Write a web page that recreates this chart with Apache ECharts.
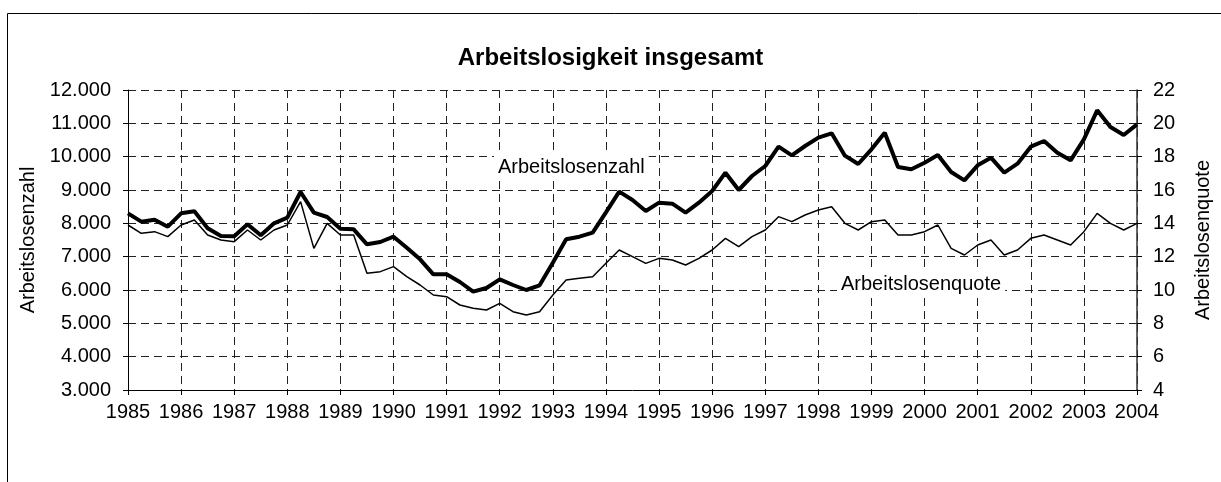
<!DOCTYPE html>
<html>
<head>
<meta charset="utf-8">
<script src="https://cdn.jsdelivr.net/npm/echarts@6/dist/echarts.min.js"></script>
<style>
html,body{margin:0;padding:0;background:#fff;}
#c{width:1221px;height:482px;}
</style>
</head>
<body>
<div id="c"></div>
<script>
// ---- data ----
const years = [1985,1986,1987,1988,1989,1990,1991,1992,1993,1994,1995,1996,1997,1998,1999,2000,2001,2002,2003,2004];
const quarters = ["Q1","Q2","Q3","Q4"];
// Arbeitslosenzahl (left axis), quarterly 1985 Q1 .. 2004 Q1
const arbeitslosenzahl = [
  8300, 8050, 8110, 7900,
  8300, 8360, 7850, 7620,
  7610, 7970, 7640, 8000,
  8170, 8940, 8320, 8190,
  7840, 7820, 7370, 7440,
  7600, 7270, 6920, 6470,
  6470, 6240, 5950, 6060,
  6320, 6150, 6000, 6140,
  6820, 7520, 7600, 7720,
  8330, 8950, 8700, 8370,
  8620, 8590, 8320, 8620,
  8970, 9520, 9000, 9420,
  9720, 10300, 10040, 10320,
  10570, 10700, 10030, 9780,
  10220, 10720, 9690, 9620,
  9820, 10050, 9540, 9290,
  9740, 9970, 9520, 9790,
  10300, 10470, 10120, 9890,
  10520, 11390, 10890, 10650,
  10970
];
// Arbeitslosenquote (right axis, %)
const arbeitslosenquote = [
  13.9, 13.4, 13.5, 13.2,
  13.9, 14.2, 13.3, 13.0,
  12.9, 13.6, 13.0, 13.6,
  13.9, 15.3, 12.5, 14.0,
  13.3, 13.3, 11.0, 11.1,
  11.4, 10.8, 10.3, 9.7,
  9.6, 9.1, 8.9, 8.8,
  9.2, 8.7, 8.5, 8.7,
  9.7, 10.6, 10.7, 10.8,
  11.6, 12.4, 12.0, 11.6,
  11.9, 11.8, 11.5, 11.9,
  12.4, 13.1, 12.6, 13.2,
  13.6, 14.4, 14.1, 14.5,
  14.8, 15.0, 14.0, 13.6,
  14.1, 14.2, 13.3, 13.3,
  13.5, 13.9, 12.5, 12.1,
  12.7, 13.0, 12.1, 12.4,
  13.1, 13.3, 13.0, 12.7,
  13.5, 14.6, 14.0, 13.6,
  14.0
];
const leftTicks = {min: 3000, max: 12000, interval: 1000};
const rightTicks = {min: 4, max: 22, interval: 2};
const titleText = "Arbeitslosigkeit insgesamt";
const nameLeft = "Arbeitslosenzahl";
const nameRight = "Arbeitslosenquote";

// categories: 1985 Q1 ... 2004 Q1
const categories = [];
years.forEach((y, i) => {
  quarters.forEach((q, j) => {
    if (i < years.length - 1 || j === 0) categories.push(y + " " + q);
  });
});

const FONT = "'Liberation Sans', Arial, sans-serif";
const chart = echarts.init(document.getElementById('c'), null, {renderer: 'canvas'});
const gridDash = {color: '#222', width: 1, type: [8, 5]};

chart.setOption({
  animation: false,
  backgroundColor: '#fff',
  title: {
    text: titleText, left: 'center', top: 41,
    textStyle: {fontFamily: FONT, fontSize: 24, fontWeight: 'bold', color: '#000'}
  },
  grid: {left: 128, right: 78, top: 90, bottom: 92},
  xAxis: {
    type: 'category', data: categories, boundaryGap: false,
    axisLine: {show: true, lineStyle: {color: '#000', width: 1}},
    axisTick: {show: true, interval: 3, length: 5, lineStyle: {color: '#000'}},
    axisLabel: {interval: 3, margin: 12, color: '#000', fontFamily: FONT, fontSize: 20,
      formatter: v => v.slice(0, 4)},
    splitLine: {show: true, interval: 3, lineStyle: gridDash}
  },
  yAxis: [
    {
      type: 'value', min: leftTicks.min, max: leftTicks.max, interval: leftTicks.interval,
      position: 'left',
      name: nameLeft, nameLocation: 'middle', nameGap: 77, nameRotate: 90,
      nameTextStyle: {fontFamily: FONT, fontSize: 20, color: '#000'},
      axisLine: {show: true, lineStyle: {color: '#000', width: 1}},
      axisTick: {show: true, length: 5, lineStyle: {color: '#000'}},
      axisLabel: {margin: 17, color: '#000', fontFamily: FONT, fontSize: 20,
        formatter: v => v.toString().replace(/\B(?=(\d{3})+(?!\d))/g, '.')},
      splitLine: {show: true, lineStyle: gridDash}
    },
    {
      type: 'value', min: rightTicks.min, max: rightTicks.max, interval: rightTicks.interval,
      position: 'right',
      name: nameRight, nameLocation: 'middle', nameGap: 56, nameRotate: 90,
      nameTextStyle: {fontFamily: FONT, fontSize: 20, color: '#000'},
      axisLine: {show: true, lineStyle: {color: '#333', width: 1.5}},
      axisTick: {show: true, length: 5, lineStyle: {color: '#000'}},
      axisLabel: {margin: 16, color: '#000', fontFamily: FONT, fontSize: 20},
      splitLine: {show: false}
    }
  ],
  series: [
    {
      name: nameLeft, type: 'line', yAxisIndex: 0, data: arbeitslosenzahl,
      showSymbol: false, lineStyle: {color: '#000', width: 4}, z: 5
    },
    {
      name: nameRight, type: 'line', yAxisIndex: 1, data: arbeitslosenquote,
      showSymbol: false, lineStyle: {color: '#000', width: 1.5}, z: 4
    }
  ],
  graphic: [
    {type: 'rect', shape: {x: 7.5, y: 13.5, width: 1240, height: 500},
     style: {fill: null, stroke: '#000', lineWidth: 1}, z: -10, silent: true},
    {type: 'text', left: 494, top: 154, z: 20,
     style: {text: nameLeft, fontFamily: FONT, fontSize: 20, fill: '#000',
       backgroundColor: '#fff', padding: [3, 4, 3, 4]}},
    {type: 'text', left: 837, top: 271, z: 20,
     style: {text: nameRight, fontFamily: FONT, fontSize: 20, fill: '#000',
       backgroundColor: '#fff', padding: [3, 4, 3, 4]}}
  ]
});
</script>
</body>
</html>
